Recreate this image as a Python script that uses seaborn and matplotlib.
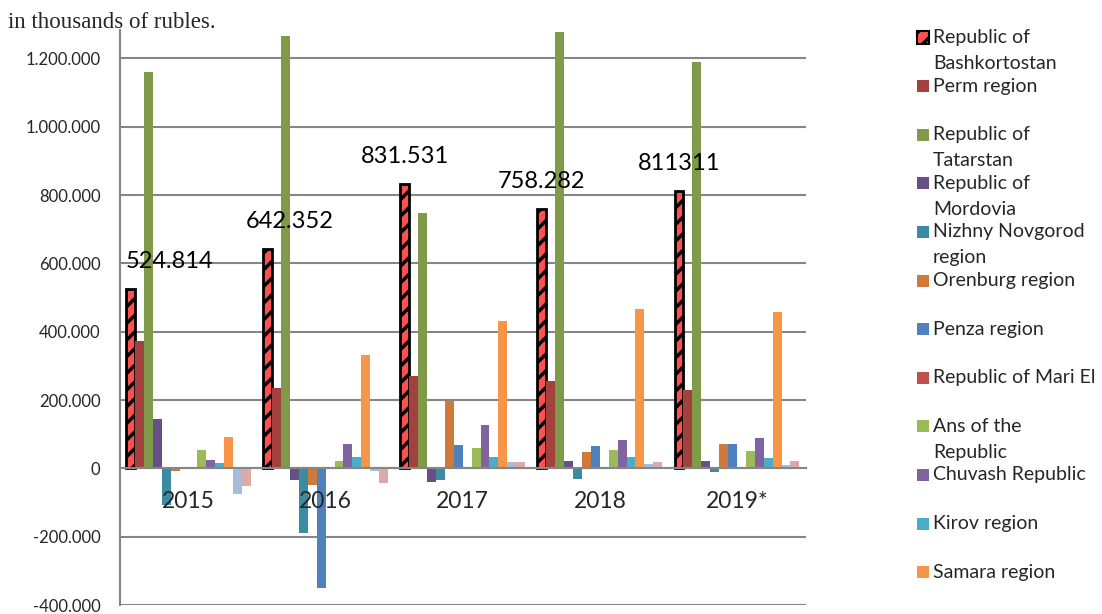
"""
Grouped bar chart: regional values 2015-2019*, in thousands of rubles
"""
import numpy as np
import pandas as pd
import matplotlib
matplotlib.use('Agg')
import matplotlib.pyplot as plt
import seaborn as sns
from matplotlib.patches import Rectangle

years = ['2015', '2016', '2017', '2018', '2019*']

regions = ['Republic of Bashkortostan', 'Perm region', 'Republic of Tatarstan',
           'Republic of Mordovia', 'Nizhny Novgorod region', 'Orenburg region',
           'Penza region', 'Republic of Mari El', 'Ans of the Republic',
           'Chuvash Republic', 'Kirov region', 'Samara region',
           'Saratov region', 'Ulyanovsk region']

# legend text as it wraps in the original (last two series are cut off there)
legend_labels = ['Republic of\nBashkortostan', 'Perm region', 'Republic of\nTatarstan',
                 'Republic of\nMordovia', 'Nizhny Novgorod\nregion', 'Orenburg region',
                 'Penza region', 'Republic of Mari El', 'Ans of the\nRepublic',
                 'Chuvash Republic', 'Kirov region', 'Samara region']

# values in rubles (thousands shown on axis with dot separators)
bashkortostan = [524814, 642352, 831531, 758282, 811311]
perm = [373000, 235000, 271000, 256000, 229000]
tatarstan = [1160000, 1264000, 748000, 1278000, 1189000]
mordovia = [143000, -35000, -40000, 22000, 21000]
nizhny = [-106000, -188000, -34000, -31000, -12000]
orenburg = [-9000, -48000, 196000, 49000, 71000]
penza = [0, -351000, 67000, 66000, 70000]
mari_el = [0, 0, 0, 0, 0]
ans = [55000, 21000, 60000, 54000, 50000]
chuvash = [24000, 72000, 127000, 83000, 88000]
kirov = [17000, 34000, 34000, 34000, 30000]
samara = [93000, 332000, 432000, 465000, 458000]
saratov = [-74000, -7000, 18000, 13000, 11000]
ulyanovsk = [-53000, -44000, 20000, 20000, 22000]

bar_labels = ['524.814', '642.352', '831.531', '758.282', '811311']
label_dx = [0.28, 0.16, 0.0, 0.0, 0.0]

colors = ['#FF5050', '#A2413E', '#7F9A48', '#674F88', '#3A8CA3', '#D1793A',
          '#4F81BD', '#C0504D', '#9BBB59', '#8064A2', '#4BACC6', '#F79646',
          '#A9BADA', '#DBA9A8']

series = [bashkortostan, perm, tatarstan, mordovia, nizhny, orenburg, penza,
          mari_el, ans, chuvash, kirov, samara, saratov, ulyanovsk]
df = pd.DataFrame([{'year': y, 'region': r, 'value': v}
                   for r, vals in zip(regions, series)
                   for y, v in zip(years, vals)])

sns.set_style('white')
plt.rcParams['font.family'] = ['Lato', 'DejaVu Sans']
plt.rcParams['hatch.linewidth'] = 2.5

GRAY = '#868686'
W, H = 1102, 614
fig = plt.figure(figsize=(W / 100, H / 100), dpi=100)
ax = fig.add_axes([120 / W, 9 / H, 685.5 / W, 575 / H])

sns.barplot(data=df, x='year', y='value', hue='region', order=years,
            hue_order=regions, palette=colors, saturation=1, width=0.91,
            errorbar=None, legend=False, ax=ax, zorder=3)

# hatched first series
for bar in ax.containers[0]:
    bar.set_hatch('//')
    bar.set_edgecolor('black')
    bar.set_linewidth(2)
for cont in ax.containers[1:]:
    for bar in cont:
        bar.set_edgecolor('none')

# value labels above the Bashkortostan bars
for i, bar in enumerate(ax.containers[0]):
    cx = bar.get_x() + bar.get_width() / 2
    ax.text(cx + label_dx[i], bashkortostan[i] + 80000, bar_labels[i],
            ha='center', va='center', fontsize=17, color='black', zorder=5)

ax.set_xlim(-0.5, len(years) - 0.5)
ax.set_ylim(-400000, 1283000)
yt = np.arange(-400000, 1200001, 200000)
ax.set_yticks(yt)
ax.set_yticklabels([f'{v:,}'.replace(',', '.') for v in yt])
ax.yaxis.grid(True, color=GRAY, linewidth=1.5)
ax.tick_params(axis='y', direction='out', length=5, width=1.5, color=GRAY,
               pad=9, labelsize=12)

ax.set_xticks(np.arange(-0.5, len(years), 1.0))
ax.set_xticklabels([])
ax.set_xticks(range(len(years)), minor=True)
ax.set_xticklabels(years, minor=True)
ax.tick_params(axis='x', which='major', direction='out', length=4, width=1.5, color=GRAY)
ax.tick_params(axis='x', which='minor', length=0, pad=16, labelsize=16.5)
ax.set_xlabel('')
ax.set_ylabel('')

# gridlines under the bars, year labels over them
ax.yaxis.set_zorder(0.5)
ax.xaxis.set_zorder(4.5)

for s in ['top', 'right']:
    ax.spines[s].set_visible(False)
ax.spines['left'].set_color(GRAY)
ax.spines['left'].set_linewidth(1.5)
ax.spines['bottom'].set_position(('data', 0))
ax.spines['bottom'].set_color(GRAY)
ax.spines['bottom'].set_linewidth(1.5)
ax.spines['bottom'].set_zorder(4)

fig.text(8 / W, 1 - 22 / H, 'in thousands of rubles.', fontsize=16.5,
         family='Liberation Serif', va='center', ha='left')

# legend drawn at the right, markers on the first line of each entry
for i, lab in enumerate(legend_labels):
    y0 = 37.5 + i * 48.6
    fc = colors[i]
    rect = Rectangle((917 / W, 1 - (y0 + 6) / H), 12 / W, 12 / H,
                     transform=fig.transFigure, facecolor=fc,
                     edgecolor='black' if i == 0 else 'none',
                     hatch='//' if i == 0 else None, linewidth=1.5)
    fig.patches.append(rect)
    for k, line in enumerate(lab.split('\n')):
        fig.text(933 / W, 1 - (y0 + k * 26) / H, line, fontsize=14,
                 va='center', ha='left')

fig.savefig('out.png', dpi=100)
plt.close(fig)
